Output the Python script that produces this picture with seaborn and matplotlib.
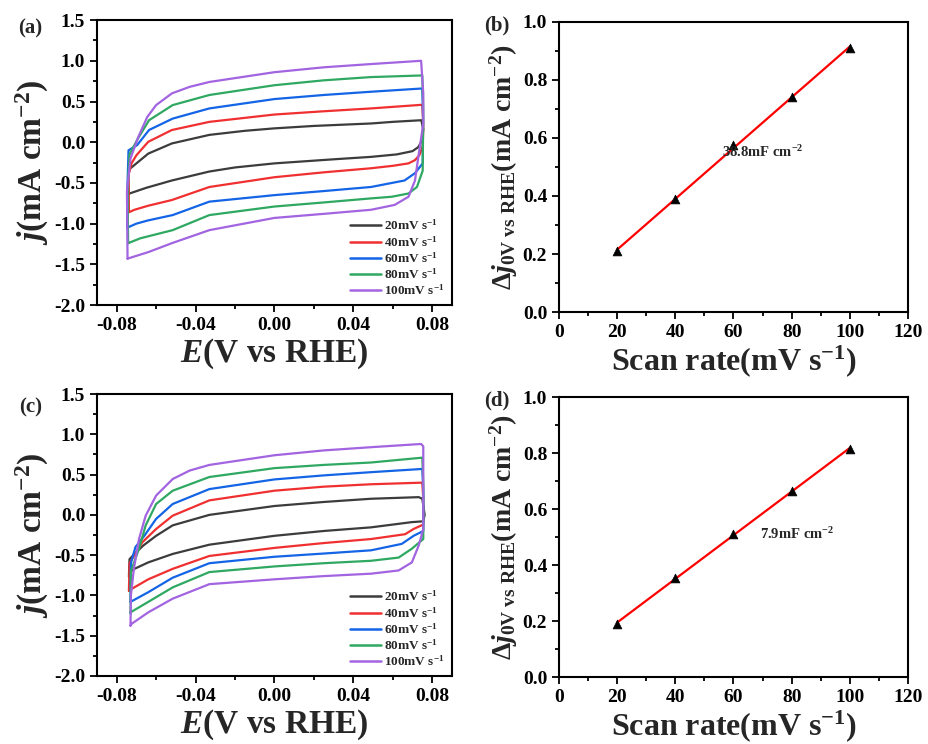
import numpy as np
import matplotlib
matplotlib.use("Agg")
import matplotlib.pyplot as plt
import seaborn as sns

# ---- data ----
rate_labels = ["20mV s$^{-1}$", "40mV s$^{-1}$", "60mV s$^{-1}$", "80mV s$^{-1}$", "100mV s$^{-1}$"]
colors = ["#3c3c3c", "#f03030", "#1464e6", "#2fa862", "#a264e0"]

# panel (a) CV loops, E in V vs RHE, j in mA cm-2
a20_E = [-0.0740, -0.0742, -0.0735, -0.0700, -0.0640, -0.0520, -0.0330, -0.0150, 0.0, 0.020, 0.049, 0.060, 0.0745,
         0.0755, 0.0748, 0.0730, 0.0700, 0.0620, 0.049, 0.030, 0.0, -0.020, -0.033, -0.052, -0.065, -0.0735, -0.0740]
a20_j = [-0.64, -0.42, -0.33, -0.26, -0.14, -0.015, 0.09, 0.14, 0.17, 0.20, 0.23, 0.25, 0.27,
         0.16, 0.02, -0.06, -0.11, -0.15, -0.18, -0.21, -0.26, -0.31, -0.36, -0.47, -0.56, -0.63, -0.64]
a40_E = [-0.0738, -0.0740, -0.0725, -0.0700, -0.0640, -0.0520, -0.0330, 0.0, 0.025, 0.049, 0.0750,
         0.0755, 0.0752, 0.0735, 0.0713, 0.0680, 0.0600, 0.049, 0.025, 0.0, -0.033, -0.052, -0.064, -0.0710, -0.0738]
a40_j = [-0.86, -0.40, -0.26, -0.16, 0.005, 0.15, 0.25, 0.34, 0.38, 0.415, 0.46,
         0.20, -0.05, -0.16, -0.22, -0.26, -0.29, -0.32, -0.37, -0.43, -0.55, -0.71, -0.78, -0.83, -0.86]
a60_E = [-0.0747, -0.0745, -0.0740, -0.0696, -0.0636, -0.0516, -0.0330, 0.0, 0.025, 0.049, 0.0750,
         0.0754, 0.0752, 0.0713, 0.0660, 0.049, 0.025, 0.0, -0.033, -0.0516, -0.0640, -0.0700, -0.0747]
a60_j = [-1.05, -0.50, -0.10, -0.035, 0.15, 0.29, 0.415, 0.53, 0.58, 0.62, 0.66,
         0.30, -0.26, -0.38, -0.47, -0.55, -0.60, -0.65, -0.73, -0.895, -0.96, -1.00, -1.05]
a80_E = [-0.0742, -0.0745, -0.0735, -0.0696, -0.0636, -0.0516, -0.0330, 0.0, 0.025, 0.049, 0.0750,
         0.0755, 0.0752, 0.0723, 0.0680, 0.0595, 0.049, 0.025, 0.0, -0.033, -0.0516, -0.0680, -0.0742]
a80_j = [-1.24, -0.60, -0.15, 0.03, 0.27, 0.456, 0.58, 0.70, 0.76, 0.80, 0.82,
         0.40, -0.35, -0.55, -0.63, -0.67, -0.69, -0.74, -0.79, -0.895, -1.08, -1.18, -1.24]
a100_E = [-0.0745, -0.0748, -0.0730, -0.0690, -0.0645, -0.0600, -0.0520, -0.0430, -0.0330, 0.0, 0.025, 0.049, 0.0744,
          0.0755, 0.0755, 0.0730, 0.0713, 0.0680, 0.0610, 0.049, 0.025, 0.0, -0.033, -0.052, -0.064, -0.0745]
a100_j = [-1.43, -0.60, -0.20, 0.067, 0.31, 0.456, 0.60, 0.68, 0.74, 0.86, 0.92, 0.96, 1.00,
          0.60, 0.23, -0.18, -0.47, -0.67, -0.77, -0.83, -0.88, -0.93, -1.08, -1.24, -1.35, -1.43]

# panel (c) CV loops
c20_E = [-0.0738, -0.0735, -0.0710, -0.0665, -0.0600, -0.0516, -0.0330, 0.0, 0.025, 0.049, 0.0732,
         0.0750, 0.0762, 0.0755, 0.0697, 0.049, 0.025, 0.0, -0.033, -0.0516, -0.064, -0.071, -0.0738]
c20_j = [-0.77, -0.55, -0.485, -0.38, -0.26, -0.13, 0.0, 0.11, 0.16, 0.20, 0.22,
         0.20, 0.0, -0.08, -0.09, -0.155, -0.20, -0.26, -0.37, -0.485, -0.59, -0.67, -0.72]
c40_E = [-0.0738, -0.0735, -0.0670, -0.0600, -0.0516, -0.0330, 0.0, 0.025, 0.049, 0.0750,
         0.0755, 0.0755, 0.0706, 0.0663, 0.049, 0.025, 0.0, -0.033, -0.0516, -0.064, -0.0725, -0.0738]
c40_j = [-0.94, -0.60, -0.34, -0.175, -0.01, 0.18, 0.30, 0.35, 0.38, 0.40,
         0.20, -0.12, -0.175, -0.24, -0.30, -0.35, -0.41, -0.51, -0.67, -0.80, -0.92, -0.94]
c60_E = [-0.0730, -0.0728, -0.0705, -0.0660, -0.0600, -0.0516, -0.0330, 0.0, 0.025, 0.049, 0.0750,
         0.0755, 0.0755, 0.0706, 0.0646, 0.049, 0.025, 0.0, -0.033, -0.0516, -0.064, -0.0730]
c60_j = [-1.08, -0.60, -0.40, -0.26, -0.05, 0.135, 0.32, 0.44, 0.49, 0.53, 0.57,
         0.30, -0.20, -0.26, -0.36, -0.44, -0.48, -0.52, -0.60, -0.78, -0.96, -1.08]
c80_E = [-0.0730, -0.0728, -0.0687, -0.0653, -0.0600, -0.0516, -0.0330, 0.0, 0.025, 0.049, 0.0750,
         0.0755, 0.0755, 0.0697, 0.0630, 0.049, 0.025, 0.0, -0.033, -0.0516, -0.064, -0.0730]
c80_j = [-1.23, -0.70, -0.42, -0.13, 0.135, 0.30, 0.47, 0.58, 0.62, 0.65, 0.71,
         0.40, -0.30, -0.42, -0.53, -0.57, -0.60, -0.64, -0.71, -0.90, -1.08, -1.21]
c100_E = [-0.0730, -0.0728, -0.0713, -0.0687, -0.0653, -0.0600, -0.0516, -0.0430, -0.0330, 0.0, 0.025, 0.049, 0.0744,
          0.0755, 0.0755, 0.0732, 0.0697, 0.0630, 0.049, 0.025, 0.0, -0.033, -0.0516, -0.064, -0.0723, -0.0730]
c100_j = [-1.375, -1.00, -0.67, -0.30, -0.01, 0.24, 0.445, 0.55, 0.62, 0.74, 0.80, 0.84, 0.88,
          0.85, -0.175, -0.38, -0.59, -0.69, -0.73, -0.76, -0.80, -0.86, -1.04, -1.21, -1.35, -1.375]

# panels (b) and (d): current density difference vs scan rate
scan_rates = [20, 40, 60, 80, 100]
b_dj = [0.21, 0.39, 0.575, 0.74, 0.91]
d_dj = [0.19, 0.355, 0.51, 0.665, 0.815]
b_note = "38.8mF cm$^{-2}$"
d_note = "7.9mF cm$^{-2}$"

# ---- style ----
sns.set_style("ticks")
plt.rcParams["font.family"] = ["Liberation Serif", "DejaVu Serif"]
plt.rcParams["font.weight"] = "bold"
plt.rcParams["mathtext.fontset"] = "custom"
plt.rcParams["mathtext.rm"] = "Liberation Serif:bold"
plt.rcParams["mathtext.bf"] = "Liberation Serif:bold"
plt.rcParams["mathtext.it"] = "Liberation Serif:italic:bold"
plt.rcParams["axes.linewidth"] = 1.5


def style_axes(ax):
    for s in ax.spines.values():
        s.set_linewidth(1.5)
        s.set_color("black")
    ax.tick_params(which="both", direction="out", width=1.3, colors="black",
                   labelsize=14, top=False, right=False)
    ax.tick_params(which="major", length=5)
    ax.tick_params(which="minor", length=3)
    for lab in ax.get_xticklabels() + ax.get_yticklabels():
        lab.set_fontweight("bold")


def draw_cv(ax, loops):
    for (E, j), lab, col in zip(loops, rate_labels, colors):
        sns.lineplot(x=E, y=j, sort=False, estimator=None, color=col, lw=1.6,
                     label=lab, ax=ax)
    ax.set_xlim(-0.09, 0.09)
    ax.set_ylim(-2.0, 1.5)
    ax.set_xticks([-0.08, -0.04, 0.0, 0.04, 0.08])
    ax.set_xticks([-0.06, -0.02, 0.02, 0.06], minor=True)
    ax.set_yticks(np.arange(-2.0, 1.51, 0.5))
    ax.set_yticks(np.arange(-1.75, 1.5, 0.5), minor=True)
    ax.set_xticklabels(["-0.08", "-0.04", "0.00", "0.04", "0.08"])
    ax.set_yticklabels(["-2.0", "-1.5", "-1.0", "-0.5", "0.0", "0.5", "1.0", "1.5"])
    ax.set_xlabel("$E$(V vs RHE)", fontsize=24, fontweight="bold", labelpad=2)
    ax.set_ylabel("$j$(mA cm$^{-2}$)", fontsize=24, fontweight="bold", labelpad=2)
    leg = ax.legend(loc="lower right", frameon=False, prop={"weight": "bold", "size": 9.5},
                    handlelength=2.3, handletextpad=0.25, labelspacing=0.12,
                    borderaxespad=0.15)
    for h in leg.get_lines():
        h.set_linewidth(1.8)
    style_axes(ax)


def draw_rate(ax, dj, note, note_xy):
    sns.regplot(x=scan_rates, y=dj, scatter=False, ci=None, truncate=True,
                color="red", line_kws={"lw": 1.6}, ax=ax)
    sns.scatterplot(x=scan_rates, y=dj, marker="^", s=40, color="black",
                    edgecolor="black", zorder=3, ax=ax)
    ax.text(note_xy[0], note_xy[1], note, fontsize=10.5, fontweight="bold",
            ha="left", va="center")
    ax.set_xlim(0, 120)
    ax.set_ylim(0, 1.0)
    ax.set_xticks(range(0, 121, 20))
    ax.set_xticks(range(10, 120, 20), minor=True)
    ax.set_yticks(np.arange(0, 1.01, 0.2))
    ax.set_yticks(np.arange(0.1, 1.0, 0.2), minor=True)
    ax.set_yticklabels(["0.0", "0.2", "0.4", "0.6", "0.8", "1.0"])
    ax.set_xlabel("Scan rate(mV s$^{-1}$)", fontsize=23, fontweight="bold", labelpad=2)
    ax.set_ylabel(r"$\Delta j_{\mathrm{0V\ vs\ RHE}}$(mA cm$^{-2}$)", fontsize=20,
                  fontweight="bold", labelpad=2)
    style_axes(ax)


fig = plt.figure(figsize=(9.29, 7.44), dpi=100)
ax_a = fig.add_axes([0.1044, 0.590, 0.382, 0.383])
ax_b = fig.add_axes([0.6017, 0.5806, 0.3757, 0.390])
ax_c = fig.add_axes([0.1044, 0.0914, 0.382, 0.379])
ax_d = fig.add_axes([0.6017, 0.0900, 0.3757, 0.376])

draw_cv(ax_a, [(a20_E, a20_j), (a40_E, a40_j), (a60_E, a60_j), (a80_E, a80_j), (a100_E, a100_j)])
draw_cv(ax_c, [(c20_E, c20_j), (c40_E, c40_j), (c60_E, c60_j), (c80_E, c80_j), (c100_E, c100_j)])
draw_rate(ax_b, b_dj, b_note, (56, 0.55))
draw_rate(ax_d, d_dj, d_note, (69, 0.51))

fig.text(0.033, 0.962, "(a)", fontsize=15, fontweight="bold", ha="center", va="center")
fig.text(0.535, 0.966, "(b)", fontsize=15, fontweight="bold", ha="center", va="center")
fig.text(0.033, 0.452, "(c)", fontsize=15, fontweight="bold", ha="center", va="center")
fig.text(0.535, 0.462, "(d)", fontsize=15, fontweight="bold", ha="center", va="center")

fig.savefig("out.png", dpi=100, facecolor="white")
